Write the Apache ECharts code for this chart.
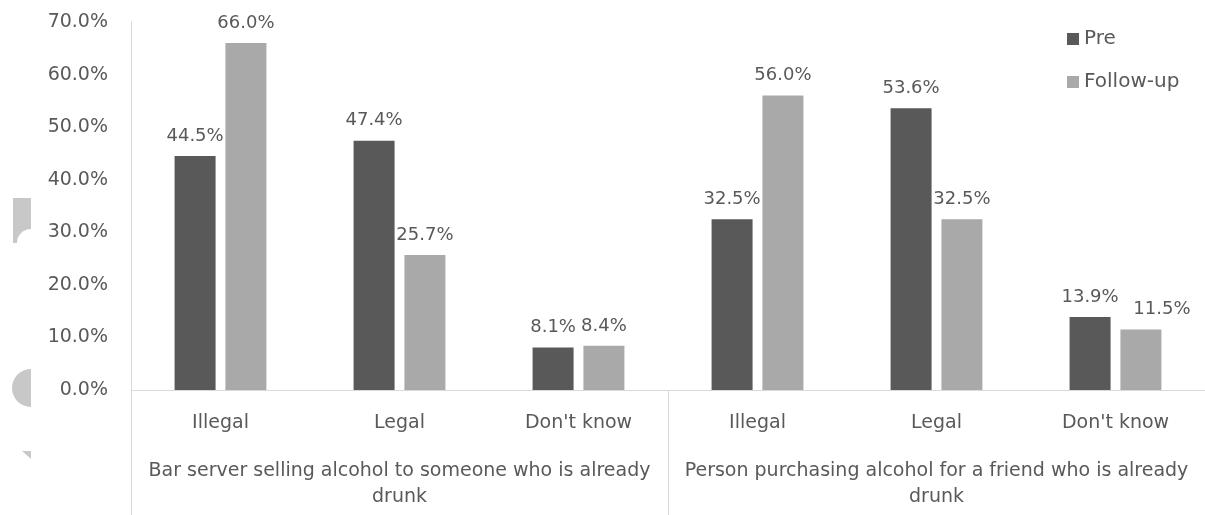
<!DOCTYPE html>
<html>
<head>
<meta charset="utf-8">
<script src="https://cdn.jsdelivr.net/npm/echarts@6/dist/echarts.min.js"></script>
<style>html,body{margin:0;padding:0;background:#fff}#c{width:1205px;height:515px}</style>
</head>
<body>
<div id="c"></div>
<script>
var categories = ["Illegal", "Legal", "Don't know", "Illegal", "Legal", "Don't know"];
var groups = ["Bar server selling alcohol to someone who is already\ndrunk", "Person purchasing alcohol for a friend who is already\ndrunk"];
var preValues = [44.5, 47.4, 8.1, 32.5, 53.6, 13.9];
var followValues = [66.0, 25.7, 8.4, 56.0, 32.5, 11.5];
var seriesNames = ["Pre", "Follow-up"];

var FONT = "DejaVu Sans";
var TXT = "#595959";
var LINE = "#d9d9d9";
var chart = echarts.init(document.getElementById('c'), null, {renderer: 'canvas'});
var labelCfg = {show: true, position: 'top', distance: 11, color: TXT, fontFamily: FONT, fontSize: 18,
  formatter: function (p) { return p.value.toFixed(1) + '%'; }};
// last follow-up label is nudged right in the original to avoid overlapping its neighbour
var followData = followValues.map(function (v, i) {
  return i === followValues.length - 1 ? {value: v, label: {offset: [21, 0]}} : v;
});
chart.setOption({
  animation: false,
  grid: {left: 131, right: 0, top: 22, bottom: 125},
  legend: {
    orient: 'vertical', left: 1062, top: 24, itemWidth: 12, itemHeight: 12, itemGap: 23, itemTextGap: 6,
    icon: 'rect', textStyle: {color: TXT, fontFamily: FONT, fontSize: 20},
    data: seriesNames
  },
  xAxis: [{
    type: 'category', data: categories,
    axisLine: {show: true, lineStyle: {color: LINE, width: 1}},
    axisTick: {show: true, length: 125, interval: function (i) { return i % 3 === 0; }, lineStyle: {color: LINE}},
    axisLabel: {color: TXT, fontFamily: FONT, fontSize: 19, margin: 24, interval: 0}
  }, {
    type: 'category', data: groups, position: 'bottom',
    axisLine: {show: false}, axisTick: {show: false},
    axisLabel: {color: TXT, fontFamily: FONT, fontSize: 19, margin: 68, interval: 0, lineHeight: 26, align: 'center'}
  }],
  yAxis: {
    type: 'value', min: 0, max: 70, interval: 10,
    splitLine: {show: false},
    axisLine: {show: true, lineStyle: {color: LINE}},
    axisTick: {show: false},
    axisLabel: {color: TXT, fontFamily: FONT, fontSize: 19, margin: 23,
      formatter: function (v) { return v.toFixed(1) + '%'; }}
  },
  series: [{
    name: seriesNames[0], type: 'bar', data: preValues, barWidth: 41, barGap: '24%',
    itemStyle: {color: '#595959'}, label: labelCfg
  }, {
    name: seriesNames[1], type: 'bar', data: followData, barWidth: 41,
    itemStyle: {color: '#a9a9a9'}, label: labelCfg
  }],
  graphic: [
    {type: 'rect', shape: {x: 13, y: 198, width: 18, height: 45}, style: {fill: '#c8c8c8'}, silent: true},
    {type: 'circle', shape: {cx: 31, cy: 243, r: 14}, style: {fill: '#fff'}, silent: true},
    {type: 'sector', shape: {cx: 31, cy: 388, r0: 0, r: 19, startAngle: Math.PI / 2, endAngle: Math.PI * 1.5}, style: {fill: '#c8c8c8'}, silent: true},
    {type: 'polygon', shape: {points: [[22, 451], [31, 451], [31, 459]]}, style: {fill: '#c8c8c8'}, silent: true}
  ]
});
</script>
</body>
</html>
